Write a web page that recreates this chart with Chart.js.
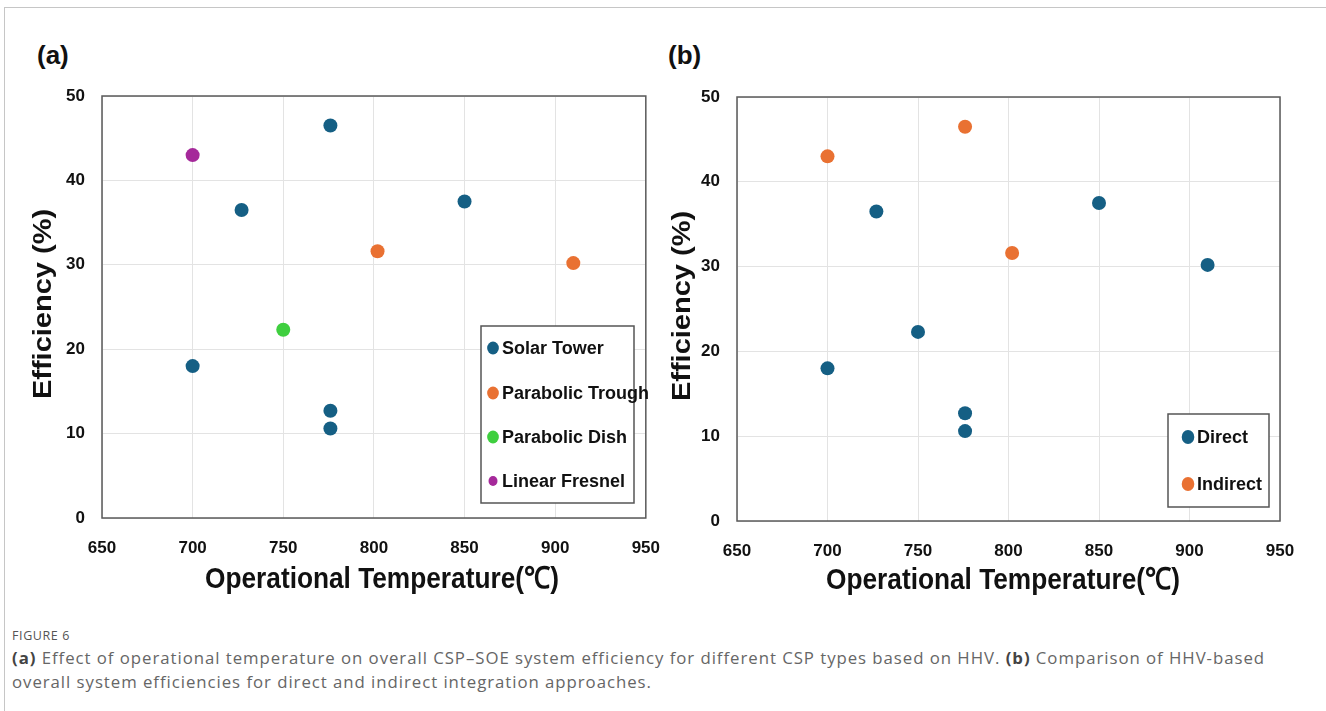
<!DOCTYPE html>
<html><head><meta charset="utf-8">
<script src="https://cdn.jsdelivr.net/npm/chart.js@4.4.1/dist/chart.umd.min.js"></script>
<style>
html,body{margin:0;padding:0;background:#fff;width:1326px;height:711px;overflow:hidden;position:relative;}
#frame{position:absolute;left:4px;top:7px;width:1340px;height:720px;border-top:1px solid #c6c6c6;border-left:1px solid #c6c6c6;}
#wa{position:absolute;left:0;top:0;}
#wb{position:absolute;left:640px;top:0;}
.plabel{position:absolute;font:bold 26px 'Liberation Sans',Arial,sans-serif;color:#111;line-height:30px;}
#cap{position:absolute;left:12px;top:626px;width:1310px;font-family:'Open Sans','Noto Sans',sans-serif;color:#666;white-space:nowrap;}
#cap .fig{font-size:12.5px;line-height:20px;color:#555;}
#cap .txt{font-size:16.8px;line-height:24px;}
#cap b{color:#444;font-weight:700;}
</style></head>
<body>
<div id="frame"></div>
<div class="plabel" style="left:37px;top:40px;">(a)</div>
<div class="plabel" style="left:668px;top:40px;">(b)</div>
<canvas id="wa" width="680" height="620"></canvas>
<canvas id="wb" width="686" height="620"></canvas>
<div id="cap">
<div class="fig"><span id="f1">FIGURE 6</span></div>
<div class="txt" id="txt"><span id="l1"><b>(a)</b> Effect of operational temperature on overall CSP–SOE system efficiency for different CSP types based on HHV. <b>(b)</b> Comparison of HHV-based</span><br><span id="l2">overall system efficiencies for direct and indirect integration approaches.</span></div>
</div>
<script>
// ---- data ----
const xTickValues = [650, 700, 750, 800, 850, 900, 950];
const xTickLabels = ['650', '700', '750', '800', '850', '900', '950'];
const yTickValues = [0, 10, 20, 30, 40, 50];
const yTickLabels = ['0', '10', '20', '30', '40', '50'];
const xTitle = 'Operational Temperature(℃)';
const yTitle = 'Efficiency (%)';

// panel (a)
const solarTowerX = [700, 727, 776, 776, 776, 850];
const solarTowerY = [18.0, 36.5, 46.5, 12.7, 10.6, 37.5];
const parabolicTroughX = [802, 910];
const parabolicTroughY = [31.6, 30.2];
const parabolicDishX = [750];
const parabolicDishY = [22.3];
const linearFresnelX = [700];
const linearFresnelY = [43.0];

// panel (b)
const directX = [700, 727, 750, 776, 776, 850, 910];
const directY = [18.0, 36.5, 22.3, 12.7, 10.6, 37.5, 30.2];
const indirectX = [700, 776, 802];
const indirectY = [43.0, 46.5, 31.6];

const C_BLUE = '#155f84', C_ORANGE = '#e97132', C_GREEN = '#3fcf3f', C_PURPLE = '#a5299a';

function pts(xs, ys) { return xs.map((x, i) => ({ x: x, y: ys[i] })); }
function ds(label, xs, ys, color, legR) {
  return { label, data: pts(xs, ys), backgroundColor: color, borderColor: color, pointRadius: 7, pointHoverRadius: 7, borderWidth: 0, legendRadius: legR };
}

Chart.defaults.font.family = "'Liberation Sans', Arial, sans-serif";
Chart.defaults.color = '#111';

const boxPlugin = {
  id: 'plotBox',
  beforeDatasetsDraw(chart) {
    const a = chart.chartArea, c = chart.ctx;
    c.save(); c.strokeStyle = '#5a5a5a'; c.lineWidth = 1.5;
    c.strokeRect(a.left, a.top, a.right - a.left, a.bottom - a.top);
    c.restore();
  },
  afterDraw(chart, args, o) {
    if (!o) return;
    const c = chart.ctx;
    c.save();
    // axis titles (slightly condensed)
    c.fillStyle = '#111';
    c.font = "bold 30px 'Liberation Sans', Arial, sans-serif";
    c.textAlign = 'center'; c.textBaseline = 'middle';
    c.save(); c.translate(o.xTitle[0], o.xTitle[1]); c.scale(0.875, 1);
    c.fillText(chart.options.scales.x.title.text, 0, 0); c.restore();
    c.font = "bold 29px 'Liberation Sans', Arial, sans-serif";
    c.save(); c.translate(o.yTitle[0], o.yTitle[1]); c.scale(0.86, 1); c.rotate(-Math.PI / 2);
    c.fillText(chart.options.scales.y.title.text, 0, 0); c.restore();
    // legend
    c.fillStyle = '#fff';
    c.fillRect(o.box[0], o.box[1], o.box[2], o.box[3]);
    c.strokeStyle = '#555'; c.lineWidth = 1.5;
    c.strokeRect(o.box[0], o.box[1], o.box[2], o.box[3]);
    c.font = "bold 18px 'Liberation Sans', Arial, sans-serif";
    c.textBaseline = 'middle'; c.textAlign = 'left';
    chart.data.datasets.forEach((d, i) => {
      const y = o.rows[i];
      c.fillStyle = d.backgroundColor;
      c.beginPath(); c.ellipse(o.markerX, y, d.legendRadius * 0.9, d.legendRadius, 0, 0, Math.PI * 2); c.fill();
      c.fillStyle = '#111';
      c.fillText(d.label, o.textX, y + 1);
    });
    c.restore();
  }
};

function makeChart(id, datasets, g) {
  return new Chart(document.getElementById(id), {
    type: 'scatter',
    data: { datasets },
    options: {
      responsive: false, animation: false, devicePixelRatio: 1,
      layout: { padding: { top: g.top, right: g.right, left: 0, bottom: 0 } },
      plugins: { legend: { display: false }, tooltip: { enabled: false }, plotBox: g.deco },
      scales: {
        x: {
          type: 'linear', min: 650, max: 950,
          afterBuildTicks: s => { s.ticks = xTickValues.map(v => ({ value: v })); },
          afterFit: s => { s.height = g.xh; },
          ticks: { callback: (v, i) => xTickLabels[i], font: { size: 17, weight: 'bold' }, color: '#111', padding: g.xtp, maxRotation: 0 },
          grid: { color: '#e3e3e3', lineWidth: 1, drawTicks: false },
          border: { display: false },
          title: { display: false, text: xTitle }
        },
        y: {
          type: 'linear', min: 0, max: 50,
          afterBuildTicks: s => { s.ticks = yTickValues.map(v => ({ value: v })); },
          afterFit: s => { s.width = g.yw; },
          ticks: { callback: (v, i) => yTickLabels[i], font: { size: 17, weight: 'bold' }, color: '#111', padding: 17 },
          grid: { color: '#e3e3e3', lineWidth: 1, drawTicks: false },
          border: { display: false },
          title: { display: false, text: yTitle }
        }
      }
    },
    plugins: [boxPlugin]
  });
}

makeChart('wa', [
  ds('Solar Tower', solarTowerX, solarTowerY, C_BLUE, 6.5),
  ds('Parabolic Trough', parabolicTroughX, parabolicTroughY, C_ORANGE, 6.5),
  ds('Parabolic Dish', parabolicDishX, parabolicDishY, C_GREEN, 6.5),
  ds('Linear Fresnel', linearFresnelX, linearFresnelY, C_PURPLE, 5)
], { top: 96, right: 14, yw: 102, xh: 102, xtp: 20,
     deco: { box: [481, 326, 153, 177], rows: [348, 393, 437, 481], markerX: 493, textX: 502,
             xTitle: [382, 580], yTitle: [44, 304] } });

makeChart('wb', [
  ds('Direct', directX, directY, C_BLUE, 7),
  ds('Indirect', indirectX, indirectY, C_ORANGE, 7)
], { top: 97, right: 46, yw: 97, xh: 99, xtp: 20,
     deco: { box: [528, 414, 101, 93], rows: [437, 484], markerX: 548, textX: 557,
             xTitle: [363, 581], yTitle: [43, 306] } });

// fit caption lines to the reference widths
function fit(el, target, applyTo) {
  const w = el.getBoundingClientRect().width;
  const n = el.textContent.length;
  applyTo.style.letterSpacing = ((target - w) / n) + 'px';
}
fit(document.getElementById('l1'), 1253, document.getElementById('txt'));
fit(document.getElementById('f1'), 58, document.getElementById('f1'));
</script>
</body></html>
